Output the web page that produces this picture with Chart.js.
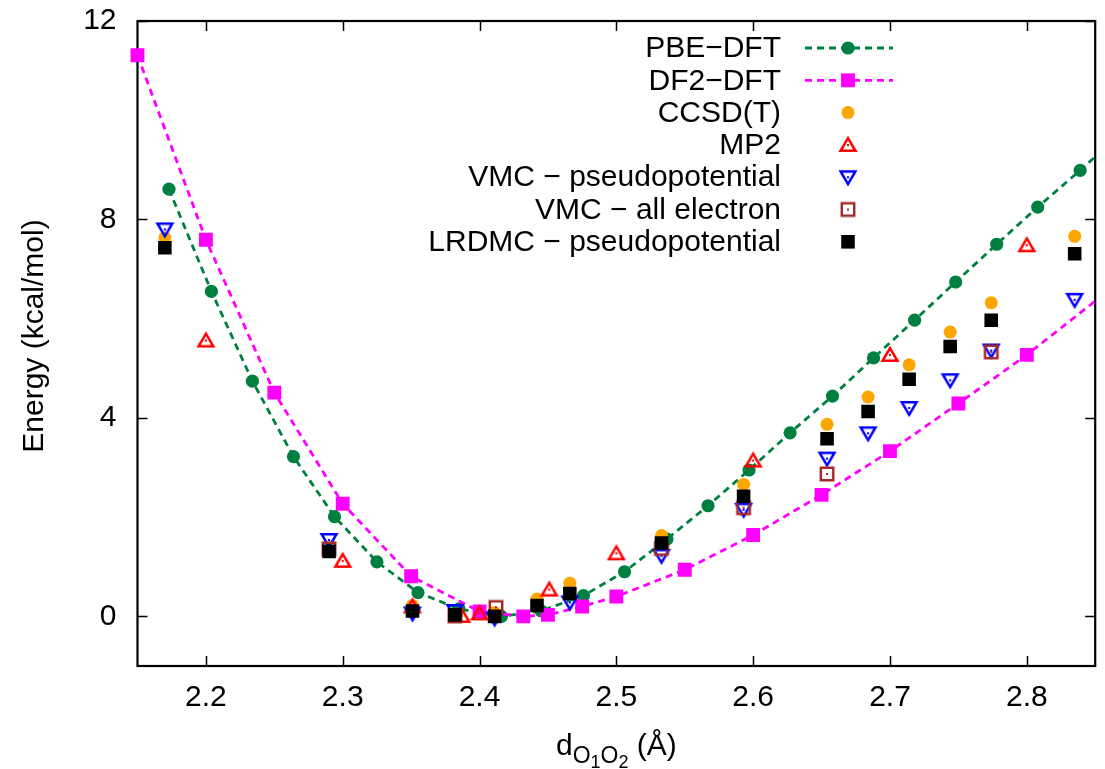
<!DOCTYPE html>
<html>
<head>
<meta charset="utf-8">
<title>O1-O2 energy scan</title>
<script src="https://cdn.jsdelivr.net/npm/chart.js@4.4.0/dist/chart.umd.min.js"></script>
<style>
  html, body { margin: 0; padding: 0; background: #fff; }
  canvas { display: block; }
</style>
</head>
<body>
<canvas id="chart" width="1105" height="769"></canvas>
<script>
// tick labels
const xTicks = [2.2, 2.3, 2.4, 2.5, 2.6, 2.7, 2.8];
const yTicks = [0, 4, 8, 12];

// series labels
const labels = ['PBE\u2212DFT', 'DF2\u2212DFT', 'CCSD(T)', 'MP2',
  'VMC \u2212 pseudopotential', 'VMC \u2212 all electron', 'LRDMC \u2212 pseudopotential'];

// PBE-DFT (last point lies past the right border, only its line shows)
const pbeX = [2.173, 2.204, 2.234, 2.264, 2.294, 2.325, 2.355, 2.385, 2.416, 2.445, 2.476, 2.506,
  2.537, 2.567, 2.597, 2.627, 2.658, 2.688, 2.718, 2.748, 2.778, 2.808, 2.839, 2.869];
const pbeY = [8.61, 6.55, 4.74, 3.22, 2.01, 1.10, 0.48, 0.15, 0.00, 0.11, 0.42, 0.90,
  1.56, 2.23, 2.95, 3.70, 4.44, 5.21, 5.97, 6.74, 7.50, 8.25, 8.99, 9.74];

// DF2-DFT
const df2X = [2.15, 2.20, 2.25, 2.30, 2.35, 2.40, 2.432, 2.45, 2.475, 2.50, 2.55, 2.60, 2.65, 2.70, 2.75, 2.80, 2.90];
const df2Y = [11.31, 7.59, 4.51, 2.27, 0.81, 0.10, 0.00, 0.03, 0.20, 0.40, 0.94, 1.64, 2.45, 3.33, 4.29, 5.27, 7.44];

// CCSD(T)
const ccsdX = [2.17, 2.351, 2.411, 2.442, 2.466, 2.533, 2.593, 2.654, 2.684, 2.714, 2.744, 2.774, 2.835];
const ccsdY = [7.63, 0.22, 0.08, 0.35, 0.67, 1.63, 2.66, 3.87, 4.42, 5.07, 5.73, 6.32, 7.66];

// MP2
const mp2X = [2.20, 2.30, 2.351, 2.387, 2.40, 2.451, 2.50, 2.60, 2.70, 2.80];
const mp2Y = [5.56, 1.12, 0.20, 0.01, 0.06, 0.54, 1.27, 3.14, 5.27, 7.48];

// VMC - pseudopotential
const vmcPpX = [2.17, 2.29, 2.351, 2.382, 2.411, 2.466, 2.533, 2.593, 2.654, 2.684, 2.714, 2.744, 2.774, 2.835];
const vmcPpY = [7.80, 1.54, 0.06, 0.11, -0.04, 0.28, 1.22, 2.15, 3.18, 3.69, 4.20, 4.76, 5.36, 6.38];

// VMC - all electron
const vmcAeX = [2.29, 2.382, 2.412, 2.533, 2.593, 2.654, 2.774];
const vmcAeY = [1.36, 0.01, 0.18, 1.37, 2.19, 2.87, 5.33];

// LRDMC - pseudopotential
const lrdmcX = [2.17, 2.29, 2.351, 2.382, 2.411, 2.442, 2.466, 2.533, 2.593, 2.654, 2.684, 2.714, 2.744, 2.774, 2.835];
const lrdmcY = [7.43, 1.31, 0.11, 0.03, 0.00, 0.22, 0.46, 1.48, 2.42, 3.58, 4.13, 4.78, 5.44, 5.97, 7.31];

const FONT = '"Liberation Sans", Arial, Helvetica, sans-serif';
const GREEN = '#008040';
const MAGENTA = '#ff00ff';

function pts(xs, ys) {
    return xs.map((x, i) => ({ x: x, y: ys[i] }));
}

// gnuplot style open symbols with a dot in the middle
function openMarker(shape, color) {
    const c = document.createElement('canvas');
    c.width = 22;
    c.height = 22;
    const g = c.getContext('2d');
    const m = 11;
    g.strokeStyle = color;
    g.fillStyle = color;
    g.lineWidth = 2.5;
    g.lineJoin = 'miter';
    g.beginPath();
    if (shape === 'up') {
        g.moveTo(m, m - 6.8);
        g.lineTo(m + 7.4, m + 5.8);
        g.lineTo(m - 7.4, m + 5.8);
        g.closePath();
    } else if (shape === 'down') {
        g.moveTo(m, m + 6.8);
        g.lineTo(m + 7.4, m - 5.8);
        g.lineTo(m - 7.4, m - 5.8);
        g.closePath();
    } else {
        g.rect(m - 6.2, m - 6.2, 12.4, 12.4);
    }
    g.stroke();
    g.fillRect(m - 1, m - 1, 2, 2);
    return c;
}

const triUp = openMarker('up', '#ff0000');
const triDown = openMarker('down', '#0000ff');
const boxOpen = openMarker('box', '#a52a2a');

const clipRight = { left: false, top: false, right: 0, bottom: false };

const datasets = [
    {
        label: labels[0], data: pts(pbeX, pbeY), showLine: true,
        borderColor: GREEN, borderWidth: 2.8, borderDash: [7, 5],
        pointStyle: 'circle', pointRadius: 6.6, pointBackgroundColor: GREEN, pointBorderWidth: 0
    },
    {
        label: labels[1], data: pts(df2X, df2Y), showLine: true,
        borderColor: MAGENTA, borderWidth: 2.8, borderDash: [7, 5],
        pointStyle: 'rect', pointRadius: 9.8, pointBackgroundColor: MAGENTA, pointBorderWidth: 0
    },
    {
        label: labels[2], data: pts(ccsdX, ccsdY),
        pointStyle: 'circle', pointRadius: 6.5, pointBackgroundColor: '#ffa500', pointBorderWidth: 0
    },
    {
        label: labels[3], data: pts(mp2X, mp2Y),
        pointStyle: triUp, pointRadius: 8
    },
    {
        label: labels[4], data: pts(vmcPpX, vmcPpY),
        pointStyle: triDown, pointRadius: 8
    },
    {
        label: labels[5], data: pts(vmcAeX, vmcAeY),
        pointStyle: boxOpen, pointRadius: 8
    },
    {
        label: labels[6], data: pts(lrdmcX, lrdmcY),
        pointStyle: 'rect', pointRadius: 9.6, pointBackgroundColor: '#000000', pointBorderWidth: 0
    }
];
datasets.forEach(function(ds, i) {
    ds.order = datasets.length - i;   // later series on top, like gnuplot
    ds.clip = clipRight;
    ds.tension = 0;
    if (!ds.showLine) ds.showLine = false;
});

// frame, inward ticks, legend and axis titles
const gnuFrame = {
    id: 'gnuFrame',
    beforeDatasetsDraw(chart) {
        const ctx = chart.ctx;
        const a = chart.chartArea;
        const xs = chart.scales.x, ys = chart.scales.y;
        ctx.save();
        ctx.strokeStyle = '#000';
        ctx.lineWidth = 1.5;
        ctx.beginPath();
        xTicks.forEach(function(v) {
            const px = Math.round(xs.getPixelForValue(v)) + 0.5;
            ctx.moveTo(px, a.bottom); ctx.lineTo(px, a.bottom - 10);
            ctx.moveTo(px, a.top); ctx.lineTo(px, a.top + 10);
        });
        yTicks.forEach(function(v) {
            const py = Math.round(ys.getPixelForValue(v)) + 0.5;
            ctx.moveTo(a.left, py); ctx.lineTo(a.left + 10, py);
            ctx.moveTo(a.right, py); ctx.lineTo(a.right - 10, py);
        });
        ctx.stroke();
        ctx.lineWidth = 2.2;
        ctx.strokeRect(a.left, a.top, a.right - a.left, a.bottom - a.top);
        ctx.restore();
    },
    afterDraw(chart) {
        const ctx = chart.ctx;
        const a = chart.chartArea;
        ctx.save();
        ctx.fillStyle = '#000';

        // legend
        ctx.font = '30px ' + FONT;
        ctx.textAlign = 'right';
        ctx.textBaseline = 'middle';
        chart.data.datasets.forEach(function(ds, i) {
            const y = 48 + i * 32.3;
            ctx.fillStyle = '#000';
            ctx.fillText(ds.label, 781, y + 1);
            const mx = 848;
            if (ds.showLine) {
                ctx.save();
                ctx.strokeStyle = ds.borderColor;
                ctx.lineWidth = ds.borderWidth;
                ctx.setLineDash(ds.borderDash);
                ctx.beginPath();
                ctx.moveTo(805, y);
                ctx.lineTo(893, y);
                ctx.stroke();
                ctx.restore();
            }
            if (ds.pointStyle instanceof HTMLCanvasElement) {
                ctx.drawImage(ds.pointStyle, mx - 11, y - 11);
            } else {
                ctx.fillStyle = ds.pointBackgroundColor;
                if (ds.pointStyle === 'circle') {
                    ctx.beginPath();
                    ctx.arc(mx, y, ds.pointRadius, 0, Math.PI * 2);
                    ctx.fill();
                } else {
                    const h = ds.pointRadius * Math.SQRT1_2;
                    ctx.fillRect(mx - h, y - h, 2 * h, 2 * h);
                }
            }
        });

        // y title
        ctx.fillStyle = '#000';
        ctx.save();
        ctx.translate(35, 336);
        ctx.rotate(-Math.PI / 2);
        ctx.textAlign = 'center';
        ctx.textBaseline = 'middle';
        ctx.font = '30px ' + FONT;
        ctx.fillText('Energy (kcal/mol)', 0, 0);
        ctx.restore();

        // x title with nested subscripts: d_{O_1O_2} (Å)
        const parts = [['d', 30, 0], ['O', 23, 8], ['1', 18, 13], ['O', 23, 8], ['2', 18, 13], [' (\u00c5)', 30, 0]];
        let total = 0;
        parts.forEach(function(p) {
            ctx.font = p[1] + 'px ' + FONT;
            total += ctx.measureText(p[0]).width;
        });
        let x = (a.left + a.right) / 2 - total / 2;
        ctx.textAlign = 'left';
        ctx.textBaseline = 'alphabetic';
        parts.forEach(function(p) {
            ctx.font = p[1] + 'px ' + FONT;
            ctx.fillText(p[0], x, 755 + p[2]);
            x += ctx.measureText(p[0]).width;
        });
        ctx.restore();
    }
};

const ctx = document.getElementById('chart').getContext('2d');
const chart = new Chart(ctx, {
    type: 'scatter',
    data: { datasets: datasets },
    plugins: [gnuFrame],
    options: {
        responsive: false,
        animation: false,
        layout: { padding: { top: 21, right: -3, bottom: 0, left: 0 } },
        plugins: {
            legend: { display: false },
            tooltip: { enabled: false }
        },
        scales: {
            x: {
                type: 'linear',
                min: 2.15,
                max: 2.85,
                afterBuildTicks: function(s) { s.ticks = xTicks.map(v => ({ value: v })); },
                afterFit: function(s) {
                    s.height = 103;
                    s.paddingLeft = 0;
                    s.paddingRight = 0;
                },
                grid: { display: false, drawTicks: false },
                border: { display: false },
                ticks: {
                    color: '#000',
                    padding: 14,
                    font: { family: FONT, size: 30 },
                    callback: v => v.toFixed(1)
                }
            },
            y: {
                type: 'linear',
                min: -1,
                max: 12,
                afterBuildTicks: function(s) { s.ticks = yTicks.map(v => ({ value: v })); },
                afterFit: function(s) {
                    s.width = 137.5;
                    s.paddingTop = 0;
                    s.paddingBottom = 0;
                },
                grid: { display: false, drawTicks: false },
                border: { display: false },
                ticks: {
                    color: '#000',
                    padding: 21,
                    font: { family: FONT, size: 30 },
                    callback: v => String(v)
                }
            }
        }
    }
});
</script>
</body>
</html>
